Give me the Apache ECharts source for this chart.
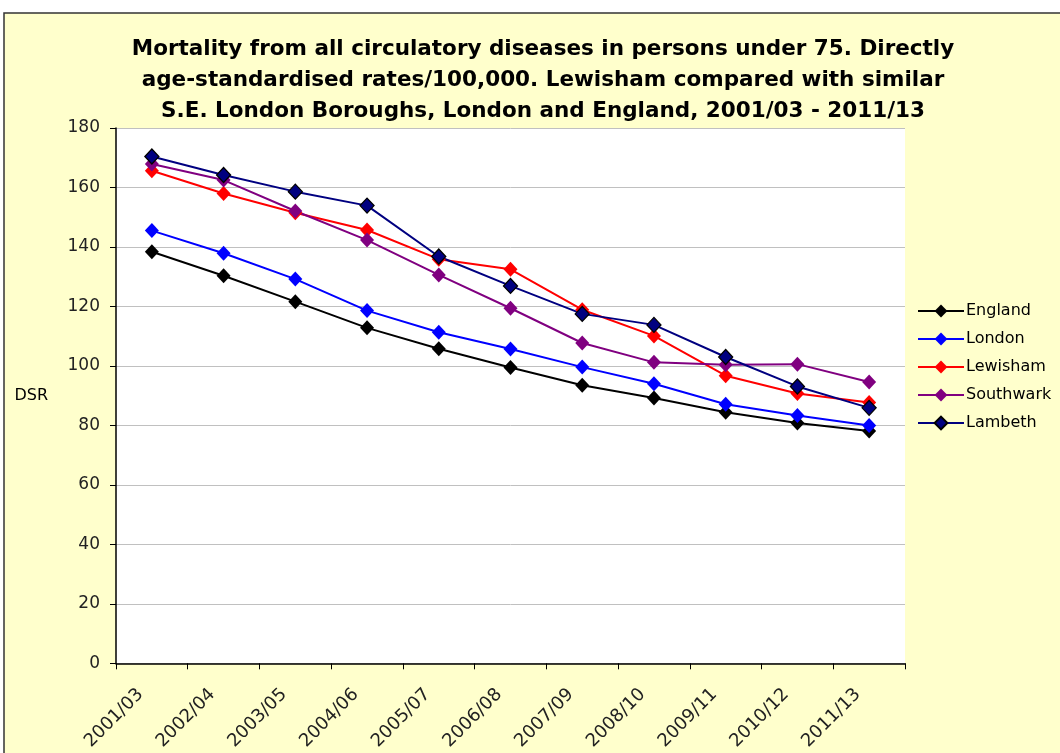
<!DOCTYPE html>
<html>
<head>
<meta charset="utf-8">
<script src="https://cdn.jsdelivr.net/npm/echarts@6/dist/echarts.min.js"></script>
<style>
  html, body { margin: 0; padding: 0; background: #ffffff; }
  #chart { width: 1060px; height: 753px; }
</style>
</head>
<body>
<div id="chart"></div>
<script>
// Three-year rolling periods
const periods = ['2001/03', '2002/04', '2003/05', '2004/06', '2005/07', '2006/08',
                 '2007/09', '2008/10', '2009/11', '2010/12', '2011/13'];

// Directly age-standardised rates per 100,000, persons under 75
const england   = [138.4, 130.3, 121.6, 112.8, 105.8, 99.5, 93.5, 89.2, 84.4, 80.8, 78.1];
const london    = [145.5, 137.9, 129.2, 118.6, 111.3, 105.7, 99.6, 94.0, 87.1, 83.3, 80.0];
const lewisham  = [165.6, 158.0, 151.5, 145.7, 135.9, 132.5, 118.9, 110.1, 96.7, 90.7, 87.7];
const southwark = [167.9, 162.5, 152.1, 142.3, 130.6, 119.4, 107.7, 101.2, 100.4, 100.6, 94.6];
const lambeth   = [170.4, 164.2, 158.6, 153.9, 136.8, 126.9, 117.5, 113.8, 103.0, 93.1, 85.9];

const yTicks = [0, 20, 40, 60, 80, 100, 120, 140, 160, 180];

const FONT = '"DejaVu Sans", Verdana, sans-serif';

function lineSeries(name, data, color, borderColor) {
  return {
    name: name,
    type: 'line',
    data: data,
    symbol: 'diamond',
    symbolSize: [14, 15],
    lineStyle: { color: color, width: 2 },
    itemStyle: { color: color, borderColor: borderColor || color, borderWidth: borderColor ? 1.3 : 0 },
    emphasis: { disabled: true },
    z: 3
  };
}

const chart = echarts.init(document.getElementById('chart'));
chart.setOption({
  animation: false,
  backgroundColor: '#ffffff',
  graphic: [{
    type: 'rect',
    z: -10,
    silent: true,
    shape: { x: 4, y: 13, width: 1100, height: 800 },
    style: { fill: '#FFFFCC', stroke: '#333333', lineWidth: 1.5 }
  }],
  title: {
    text: 'Mortality from all circulatory diseases in persons under 75. Directly\nage-standardised rates/100,000. Lewisham compared with similar\nS.E. London Boroughs, London and England, 2001/03 - 2011/13',
    left: 538,
    top: 29,
    textAlign: 'center',
    textStyle: {
      fontFamily: FONT,
      fontWeight: 'bold',
      fontSize: 21.5,
      lineHeight: 31,
      color: '#000000'
    }
  },
  legend: {
    orient: 'vertical',
    left: 912,
    top: 298,
    itemWidth: 46,
    itemHeight: 16,
    itemGap: 12,
    textStyle: { fontFamily: FONT, fontSize: 16, color: '#000000', padding: [0, 0, 0, -3] },
    data: ['England', 'London', 'Lewisham', 'Southwark', 'Lambeth']
  },
  grid: {
    left: 116,
    top: 128,
    right: 155,
    bottom: 89,
    show: true,
    backgroundColor: '#ffffff',
    borderWidth: 0
  },
  xAxis: {
    type: 'category',
    data: periods,
    boundaryGap: true,
    axisLine: { lineStyle: { color: '#000000', width: 1.5 } },
    axisTick: { show: true, length: 6, interval: 0, lineStyle: { color: '#000000' } },
    axisLabel: {
      rotate: 45,
      interval: 0,
      margin: 17,
      padding: [0, 16, 0, 0],
      fontFamily: FONT,
      fontSize: 18,
      color: '#222222'
    },
    splitLine: { show: false }
  },
  yAxis: {
    type: 'value',
    min: 0,
    max: 180,
    interval: 20,
    name: 'DSR',
    nameLocation: 'middle',
    nameRotate: 0,
    nameGap: 68,
    nameTextStyle: { fontFamily: FONT, fontSize: 16, color: '#000000', align: 'right' },
    axisLine: { show: true, lineStyle: { color: '#000000', width: 1.5 } },
    axisTick: { show: true, length: 6, lineStyle: { color: '#000000' } },
    axisLabel: {
      fontFamily: FONT,
      fontSize: 17,
      color: '#222222',
      margin: 16,
      formatter: function (v) { return yTicks.indexOf(v) >= 0 ? String(v) : ''; }
    },
    splitLine: { show: true, lineStyle: { color: '#C0C0C0', width: 1 } }
  },
  series: [
    lineSeries('England', england, '#000000'),
    lineSeries('London', london, '#0000FF'),
    lineSeries('Lewisham', lewisham, '#FF0000'),
    lineSeries('Southwark', southwark, '#800080'),
    lineSeries('Lambeth', lambeth, '#000080', '#000000')
  ]
});
</script>
</body>
</html>
